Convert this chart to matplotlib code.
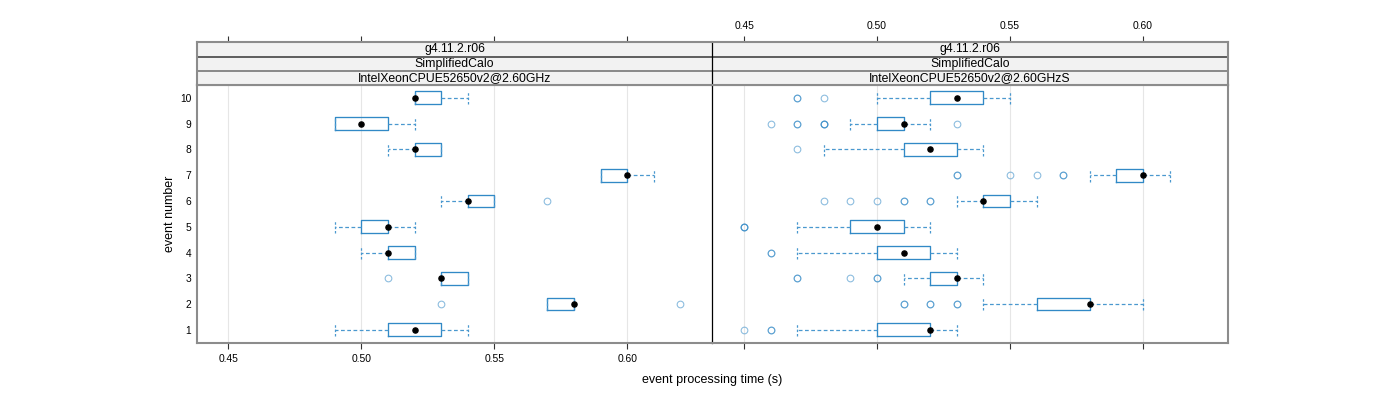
import matplotlib
matplotlib.use("Agg")
import matplotlib.pyplot as plt

plt.rcParams['font.family'] = ['Liberation Sans', 'DejaVu Sans']

events = [1, 2, 3, 4, 5, 6, 7, 8, 9, 10]
strip_labels_left = ["g4.11.2.r06", "SimplifiedCalo", "IntelXeonCPUE52650v2@2.60GHz"]
strip_labels_right = ["g4.11.2.r06", "SimplifiedCalo", "IntelXeonCPUE52650v2@2.60GHzS"]
x_ticks = [0.45, 0.50, 0.55, 0.60]
x_tick_labels = ["0.45", "0.50", "0.55", "0.60"]

# Left panel (IntelXeonCPUE52650v2@2.60GHz)
left_whislo = [0.49, 0.57, 0.53, 0.50, 0.49, 0.53, 0.59, 0.51, 0.49, 0.52]
left_q1     = [0.51, 0.57, 0.53, 0.51, 0.50, 0.54, 0.59, 0.52, 0.49, 0.52]
left_med    = [0.52, 0.58, 0.53, 0.51, 0.51, 0.54, 0.60, 0.52, 0.50, 0.52]
left_q3     = [0.53, 0.58, 0.54, 0.52, 0.51, 0.55, 0.60, 0.53, 0.51, 0.53]
left_whishi = [0.54, 0.58, 0.54, 0.52, 0.52, 0.55, 0.61, 0.53, 0.52, 0.54]
left_fliers = [[], [0.53, 0.62], [0.51], [], [], [0.57], [], [], [], []]

# Right panel (IntelXeonCPUE52650v2@2.60GHzS)
right_whislo = [0.47, 0.54, 0.51, 0.47, 0.47, 0.53, 0.58, 0.48, 0.49, 0.50]
right_q1     = [0.50, 0.56, 0.52, 0.50, 0.49, 0.54, 0.59, 0.51, 0.50, 0.52]
right_med    = [0.52, 0.58, 0.53, 0.51, 0.50, 0.54, 0.60, 0.52, 0.51, 0.53]
right_q3     = [0.52, 0.58, 0.53, 0.52, 0.51, 0.55, 0.60, 0.53, 0.51, 0.54]
right_whishi = [0.53, 0.60, 0.54, 0.53, 0.52, 0.56, 0.61, 0.54, 0.52, 0.55]
right_fliers = [
    [0.45, 0.46, 0.46],
    [0.51, 0.51, 0.52, 0.52, 0.53, 0.53],
    [0.47, 0.47, 0.49, 0.50, 0.50],
    [0.46, 0.46],
    [0.45, 0.45, 0.45],
    [0.48, 0.49, 0.50, 0.51, 0.51, 0.52, 0.52],
    [0.53, 0.53, 0.55, 0.56, 0.57, 0.57],
    [0.47],
    [0.46, 0.47, 0.47, 0.48, 0.48, 0.48, 0.53],
    [0.47, 0.47, 0.48],
]

XLIM = (0.43805, 0.632)
YLIM = (0.5, 10.5)
BOX_COL = '#3189c6'
WHISK_COL = '#4a98cf'
FRAME_COL = '#8c8c8c'

W, H = 1400, 400
fig = plt.figure(figsize=(14, 4), dpi=100)
L, M, R = 196.7 / W, 712.3 / W, 1228 / W
pb, pt, st = 1 - 342.7 / H, 1 - 85 / H, 1 - 42.3 / H

ax_l = fig.add_axes([L, pb, M - L, pt - pb])
ax_r = fig.add_axes([M, pb, R - M, pt - pb])
sax_l = fig.add_axes([L, pt, M - L, st - pt])
sax_r = fig.add_axes([M, pt, R - M, st - pt])


def draw_panel(ax, wlo, q1, med, q3, whi, fliers):
    stats = []
    for i in range(len(events)):
        stats.append(dict(med=med[i], q1=q1[i], q3=q3[i], whislo=wlo[i],
                          whishi=whi[i], fliers=fliers[i]))
    kw = dict(positions=events, widths=0.5, showfliers=True, capwidths=0.5,
              boxprops=dict(color=BOX_COL, lw=0.95),
              whiskerprops=dict(color=WHISK_COL, lw=0.9, linestyle=(0, (3, 2))),
              capprops=dict(color=WHISK_COL, lw=0.9, linestyle=(0, (2, 1.5))),
              medianprops=dict(linestyle='none'),
              flierprops=dict(marker='o', markerfacecolor='none',
                              markeredgecolor=BOX_COL, markersize=4.8,
                              markeredgewidth=0.8, alpha=0.55, linestyle='none'),
              manage_ticks=False)
    try:
        ax.bxp(stats, orientation='horizontal', **kw)
    except TypeError:
        ax.bxp(stats, vert=False, **kw)
    ax.plot(med, events, 'o', color='black', markersize=3.7, zorder=5,
            linestyle='none')
    for t in x_ticks:
        ax.axvline(t, color='#e6e6e6', lw=0.8, zorder=0)
    ax.set_xlim(*XLIM)
    ax.set_ylim(*YLIM)
    for s in ax.spines.values():
        s.set_color(FRAME_COL)
        s.set_linewidth(1.5)


draw_panel(ax_l, left_whislo, left_q1, left_med, left_q3, left_whishi, left_fliers)
draw_panel(ax_r, right_whislo, right_q1, right_med, right_q3, right_whishi, right_fliers)

# divider
ax_l.spines['right'].set_visible(False)
ax_r.spines['left'].set_color('black')
ax_r.spines['left'].set_linewidth(0.9)

# ticks
ax_l.set_xticks(x_ticks)
ax_l.set_xticklabels(x_tick_labels)
ax_l.set_yticks(events)
ax_l.set_yticklabels([str(e) for e in events])
ax_l.tick_params(axis='x', direction='out', length=4.3, width=0.8,
                 labelsize=7.4, pad=4, color='#333333')
ax_l.tick_params(axis='y', length=0, labelsize=7.4, pad=4)

ax_r.set_xticks(x_ticks)
ax_r.set_xticklabels([])
ax_r.set_yticks([])
ax_r.tick_params(axis='x', direction='out', length=4.3, width=0.8, color='#333333')


def draw_strip(sax, labels, show_labels):
    sax.set_xlim(*XLIM)
    sax.set_ylim(0, 3)
    sax.set_facecolor('#f2f2f2')
    sax.set_yticks([])
    for y in (1, 2):
        sax.axhline(y, color='#444444' if y == 2 else '#777777', lw=1.2)
    for i, lab in enumerate(labels):
        sax.text(0.5, (2.5 - i) / 3, lab, transform=sax.transAxes,
                 ha='center', va='center', fontsize=8.8)
    for s in sax.spines.values():
        s.set_color(FRAME_COL)
        s.set_linewidth(1.5)
    sax.xaxis.tick_top()
    sax.set_xticks(x_ticks)
    if show_labels:
        sax.set_xticklabels(x_tick_labels)
    else:
        sax.set_xticklabels([])
    sax.tick_params(axis='x', direction='out', length=4.3, width=0.8,
                    labelsize=7.4, pad=4, color='#333333')


draw_strip(sax_l, strip_labels_left, False)
draw_strip(sax_r, strip_labels_right, True)
sax_l.spines['right'].set_visible(False)
sax_r.spines['left'].set_color('black')
sax_r.spines['left'].set_linewidth(0.9)

fig.text(M, 1 - 380 / H, "event processing time (s)", ha='center', va='center',
         fontsize=9)
fig.text(170 / W, 1 - 214 / H, "event number", ha='center', va='center',
         rotation=90, fontsize=9)

fig.savefig("out.png", dpi=100)
